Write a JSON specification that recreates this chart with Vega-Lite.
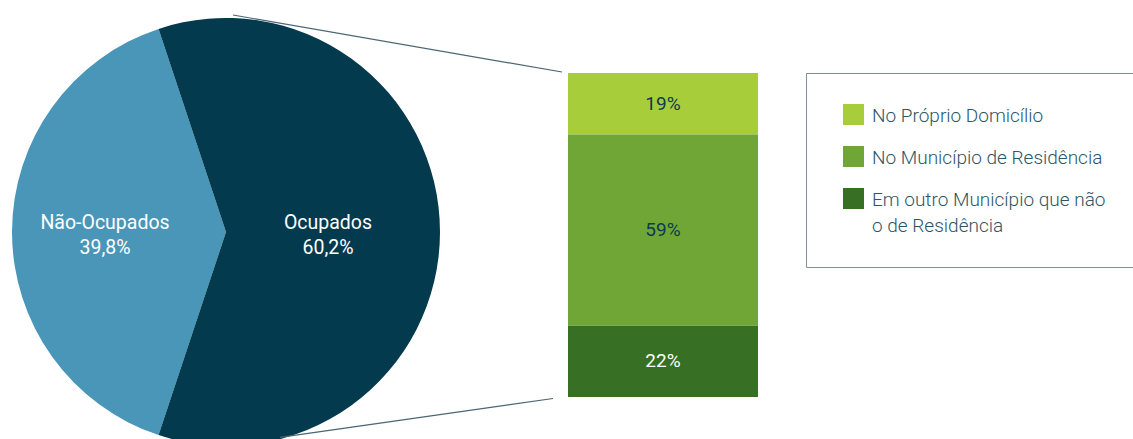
{
  "$schema": "https://vega.github.io/schema/vega-lite/v6.json",
  "width": 1133,
  "height": 439,
  "autosize": "none",
  "padding": 0,
  "background": "white",
  "config": {
    "view": {"stroke": null},
    "locale": {"number": {"decimal": ",", "thousands": ".", "grouping": [3], "currency": ["R$ ", ""]}}
  },
  "datasets": {
    "ocupacao": [
      {"categoria": "Não-Ocupados", "pct": 0.398},
      {"categoria": "Ocupados", "pct": 0.602}
    ],
    "local": [
      {"local": "No Próprio Domicílio", "pct": 0.19},
      {"local": "No Município de Residência", "pct": 0.59},
      {"local": "Em outro Município que não o de Residência", "pct": 0.22}
    ]
  },
  "layer": [
    {
      "data": {"name": "ocupacao"},
      "mark": {"type": "arc", "radius": 214},
      "encoding": {
        "theta": {"field": "pct", "type": "quantitative", "stack": true, "scale": {"domain": [0, 1], "range": [3.462, 9.7452]}},
        "order": {"field": "pct", "sort": "ascending"},
        "fill": {"field": "categoria", "type": "nominal", "scale": {"domain": ["Não-Ocupados", "Ocupados"], "range": ["#4a96b9", "#033a4d"]}, "legend": null},
        "x": {"datum": -1.8, "type": "quantitative", "scale": {"domain": [-2.98947, 2.97368], "nice": false, "zero": false}, "axis": null},
        "y": {"datum": 0.5093, "type": "quantitative", "scale": {"domain": [-0.12963, 1.22531], "nice": false, "zero": false}, "axis": null}
      }
    },
    {
      "data": {"name": "ocupacao"},
      "mark": {"type": "text", "radius": 111.5, "dx": -9.5, "dy": -9, "font": "Roboto", "fontSize": 19.5, "fontWeight": 400, "color": "white"},
      "encoding": {
        "theta": {"field": "pct", "type": "quantitative", "stack": true, "scale": {"domain": [0, 1], "range": [3.462, 9.7452]}},
        "order": {"field": "pct", "sort": "ascending"},
        "detail": {"field": "categoria", "type": "nominal"},
        "text": {"field": "categoria", "type": "nominal"},
        "x": {"datum": -1.8, "type": "quantitative", "scale": {"domain": [-2.98947, 2.97368], "nice": false, "zero": false}, "axis": null},
        "y": {"datum": 0.5093, "type": "quantitative", "scale": {"domain": [-0.12963, 1.22531], "nice": false, "zero": false}, "axis": null}
      }
    },
    {
      "data": {"name": "ocupacao"},
      "mark": {"type": "text", "radius": 111.5, "dx": -9.5, "dy": 16, "font": "Roboto", "fontSize": 19.5, "fontWeight": 400, "color": "white"},
      "encoding": {
        "theta": {"field": "pct", "type": "quantitative", "stack": true, "scale": {"domain": [0, 1], "range": [3.462, 9.7452]}},
        "order": {"field": "pct", "sort": "ascending"},
        "detail": {"field": "categoria", "type": "nominal"},
        "text": {"field": "pct", "type": "quantitative", "format": ".1%"},
        "x": {"datum": -1.8, "type": "quantitative", "scale": {"domain": [-2.98947, 2.97368], "nice": false, "zero": false}, "axis": null},
        "y": {"datum": 0.5093, "type": "quantitative", "scale": {"domain": [-0.12963, 1.22531], "nice": false, "zero": false}, "axis": null}
      }
    },
    {
      "data": {"name": "local"},
      "transform": [
        {"stack": "pct", "groupby": [], "sort": [{"field": "local", "order": "ascending"}], "as": ["y0", "y1"]}
      ],
      "mark": {"type": "rect"},
      "encoding": {
        "x": {"datum": 0, "type": "quantitative", "scale": {"domain": [-2.98947, 2.97368], "nice": false, "zero": false}, "axis": null},
        "x2": {"datum": 1},
        "y": {"field": "y0", "type": "quantitative", "scale": {"domain": [-0.12963, 1.22531], "nice": false, "zero": false}, "axis": null},
        "y2": {"field": "y1"},
        "color": {
          "field": "local",
          "type": "nominal",
          "scale": {
            "domain": ["No Próprio Domicílio", "No Município de Residência", "Em outro Município que não o de Residência"],
            "range": ["#a8cd3b", "#70a635", "#376f24"]
          },
          "legend": {
            "orient": "none",
            "legendX": 806,
            "legendY": 73,
            "title": null,
            "symbolType": "square",
            "symbolSize": 441,
            "symbolStrokeWidth": 0,
            "symbolOpacity": 1,
            "symbolOffset": 6,
            "padding": 31,
            "strokeColor": "#7f919b",
            "rowPadding": 20,
            "labelOffset": 8,
            "labelFont": "Roboto",
            "labelFontSize": 19,
            "labelFontWeight": 300,
            "labelColor": "#2d5565",
            "labelLimit": 400,
            "labelBaseline": "alphabetic",
            "labelExpr": "datum.label == 'Em outro Município que não o de Residência' ? ['Em outro Município que não', 'o de Residência'] : datum.label",
            "encode": {"labels": {"update": {"dy": {"value": 7}, "lineHeight": {"value": 26}}}}
          }
        }
      }
    },
    {
      "data": {"name": "local"},
      "mark": {"type": "text", "font": "Roboto", "fontSize": 19, "fontWeight": 400},
      "encoding": {
        "x": {"datum": 0.5, "type": "quantitative", "scale": {"domain": [-2.98947, 2.97368], "nice": false, "zero": false}, "axis": null},
        "y": {"field": "pct", "type": "quantitative", "stack": "zero", "bandPosition": 0.5, "scale": {"domain": [-0.12963, 1.22531], "nice": false, "zero": false}, "axis": null},
        "order": {"field": "local", "sort": "ascending"},
        "detail": {"field": "local", "type": "nominal"},
        "text": {"field": "pct", "type": "quantitative", "format": ".0%"},
        "color": {"condition": {"test": "datum.local === 'Em outro Município que não o de Residência'", "value": "white"}, "value": "#0c3a52"}
      }
    },
    {
      "data": {"values": [{}]},
      "mark": {"type": "rule", "color": "#4a6573", "strokeWidth": 1.2},
      "encoding": {
        "x": {"datum": -1.7632, "type": "quantitative", "scale": {"domain": [-2.98947, 2.97368], "nice": false, "zero": false}, "axis": null},
        "x2": {"datum": -0.0316},
        "y": {"datum": 1.179, "type": "quantitative", "scale": {"domain": [-0.12963, 1.22531], "nice": false, "zero": false}, "axis": null},
        "y2": {"datum": 1.003}
      }
    },
    {
      "data": {"values": [{}]},
      "mark": {"type": "rule", "color": "#4a6573", "strokeWidth": 1.2},
      "encoding": {
        "x": {"datum": -1.5158, "type": "quantitative", "scale": {"domain": [-2.98947, 2.97368], "nice": false, "zero": false}, "axis": null},
        "x2": {"datum": -0.0789},
        "y": {"datum": -0.1244, "type": "quantitative", "scale": {"domain": [-0.12963, 1.22531], "nice": false, "zero": false}, "axis": null},
        "y2": {"datum": -0.0046}
      }
    }
  ]
}
